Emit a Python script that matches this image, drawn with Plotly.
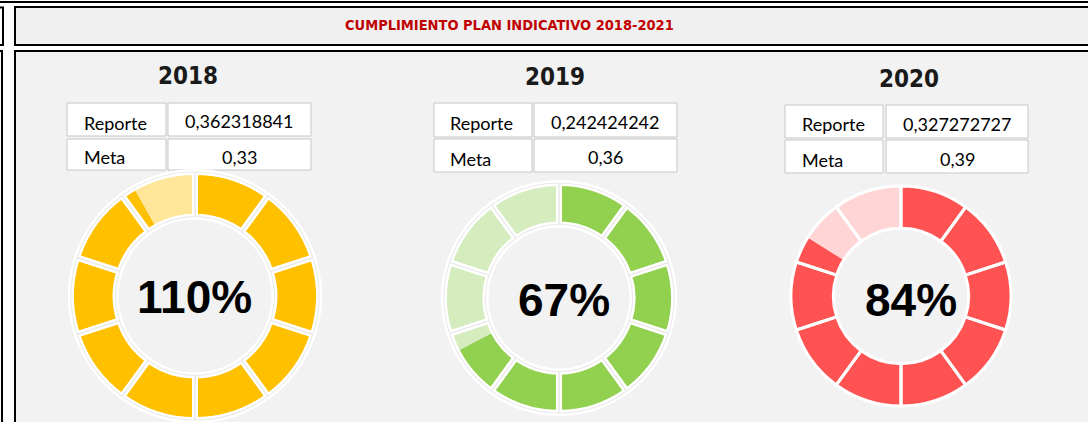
import plotly.graph_objects as go

# ---- data ----
years = ["2018", "2019", "2020"]
reporte = [0.362318841, 0.242424242, 0.327272727]
meta = [0.33, 0.36, 0.39]
segments = [1] * 10
title = "CUMPLIMIENTO PLAN INDICATIVO 2018-2021"

dark_colors = ["#ffc000", "#92d050", "#ff5353"]
pale_colors = ["#ffe699", "#d5ecbf", "#ffd5d5"]

W, H = 1088, 422


def px(x):
    return x / W


def py(y):
    return 1 - y / H


# layout geometry (pixels)
donut_c = [(195, 296), (559, 298), (901, 296)]
donut_r = [124, 115, 110]
holes = [0.64, 0.64, 0.615]
gap_w = [6, 6, 3]
double_gap = [True, True, False]
year_pos = [(188, 76), (555, 77), (909, 79)]
tables = [
    dict(lab=(67, 166), val=(168, 311), r1=(103, 136), r2=(139, 170), tx=82),
    dict(lab=(434, 532), val=(534, 677), r1=(103, 137), r2=(139, 172), tx=448),
    dict(lab=(785, 883), val=(886, 1028), r1=(105, 138), r2=(140, 173), tx=800),
]
center_text_pos = [(194, 297), (564, 300), (911, 300)]

fig = go.Figure()
shapes = []
annotations = []

# frame
BG = "#f2f2f2"
shapes.append(dict(type="rect", xref="paper", yref="paper", x0=px(15), x1=px(1100),
                   y0=py(51 + 400), y1=py(51), fillcolor=BG, line=dict(color="black", width=2), layer="below"))
shapes.append(dict(type="rect", xref="paper", yref="paper", x0=px(15), x1=px(1100),
                   y0=py(45), y1=py(7), fillcolor="#f0f0f0", line=dict(color="black", width=2), layer="below"))
shapes.append(dict(type="rect", xref="paper", yref="paper", x0=px(-20), x1=px(3),
                   y0=py(45), y1=py(7.5), fillcolor="white", line=dict(color="black", width=2), layer="below"))
shapes.append(dict(type="rect", xref="paper", yref="paper", x0=px(-20), x1=px(2),
                   y0=py(451), y1=py(51), fillcolor="white", line=dict(color="black", width=2), layer="below"))
shapes.append(dict(type="line", xref="paper", yref="paper", x0=0, x1=1,
                   y0=py(2), y1=py(2), line=dict(color="black", width=2), layer="below"))

COND = "DejaVu Sans Condensed, Liberation Sans Narrow, Arial Narrow, sans-serif"
annotations.append(dict(x=px(509), y=py(25), xref="paper", yref="paper", text=f"<b>{title}</b>", showarrow=False,
                        font=dict(family=COND, size=14.5, color="#c00000"),
                        xanchor="center", yanchor="middle"))

for i, yr in enumerate(years):
    pct = reporte[i] / meta[i]
    cx, cy = donut_c[i]
    r = donut_r[i]
    dom = dict(x=[px(cx - r), px(cx + r)], y=[py(cy + r), py(cy - r)])
    # value ring
    fig.add_trace(go.Pie(values=[pct, abs(1 - pct)], labels=["Cumplimiento", "Restante"],
                         marker=dict(colors=[dark_colors[i], pale_colors[i]], line=dict(width=0)),
                         hole=holes[i], sort=False, direction="clockwise", rotation=0,
                         textinfo="none", hoverinfo="skip", domain=dom, showlegend=False))
    # segment overlay (white gaps)
    fig.add_trace(go.Pie(values=segments, labels=[f"s{k}" for k in range(len(segments))],
                         marker=dict(colors=["rgba(0,0,0,0)"] * len(segments), line=dict(color="white", width=gap_w[i])),
                         hole=holes[i], sort=False, direction="clockwise", rotation=0,
                         textinfo="none", hoverinfo="skip", domain=dom, showlegend=False))
    if double_gap[i]:
        fig.add_trace(go.Pie(values=segments, labels=[f"t{k}" for k in range(len(segments))],
                             marker=dict(colors=["rgba(0,0,0,0)"] * len(segments), line=dict(color="#ebebeb", width=1.2)),
                             hole=holes[i], sort=False, direction="clockwise", rotation=0,
                             textinfo="none", hoverinfo="skip", domain=dom, showlegend=False))
    # center text
    tx, ty = center_text_pos[i]
    annotations.append(dict(x=px(tx), y=py(ty), xref="paper", yref="paper", text=f"<b>{round(pct * 100)}%</b>",
                            showarrow=False, font=dict(family="Liberation Sans, Arial, sans-serif", size=46, color="black"),
                            xanchor="center", yanchor="middle"))
    # year label
    yx, yy = year_pos[i]
    annotations.append(dict(x=px(yx), y=py(yy), xref="paper", yref="paper", text=f"<b>{yr}</b>",
                            showarrow=False, font=dict(family=COND, size=24, color="#1a1a1a"),
                            xanchor="center", yanchor="middle"))
    # table
    t = tables[i]
    for (x0, x1) in (t["lab"], t["val"]):
        for (y0, y1) in (t["r1"], t["r2"]):
            shapes.append(dict(type="rect", xref="paper", yref="paper", x0=px(x0), x1=px(x1), y0=py(y1), y1=py(y0),
                               fillcolor="white", line=dict(color="#c6c6c6", width=1), layer="below"))
    rep_txt = f"{reporte[i]:.9f}".replace(".", ",")
    meta_txt = str(meta[i]).replace(".", ",")
    tfont = dict(family="Lato, Open Sans, sans-serif", size=18, color="black")
    r1c = (t["r1"][0] + t["r1"][1]) / 2 + 3
    r2c = (t["r2"][0] + t["r2"][1]) / 2 + 3
    vc = (t["val"][0] + t["val"][1]) / 2
    annotations.append(dict(x=px(t["tx"]), y=py(r1c), xref="paper", yref="paper", text="Reporte", showarrow=False,
                            font=tfont, xanchor="left", yanchor="middle"))
    annotations.append(dict(x=px(t["tx"]), y=py(r2c), xref="paper", yref="paper", text="Meta", showarrow=False,
                            font=tfont, xanchor="left", yanchor="middle"))
    annotations.append(dict(x=px(vc), y=py(r1c - 1), xref="paper", yref="paper", text=rep_txt, showarrow=False,
                            font=tfont, xanchor="center", yanchor="middle"))
    annotations.append(dict(x=px(vc), y=py(r2c - 1), xref="paper", yref="paper", text=meta_txt, showarrow=False,
                            font=tfont, xanchor="center", yanchor="middle"))

fig.update_layout(width=W, height=H, margin=dict(l=0, r=0, t=0, b=0), paper_bgcolor="white",
                  plot_bgcolor="white", shapes=shapes, annotations=annotations, showlegend=False)
fig.write_html("out.html", config={"displayModeBar": False},
               post_script="document.body.style.margin='0';document.body.style.padding='0';")
